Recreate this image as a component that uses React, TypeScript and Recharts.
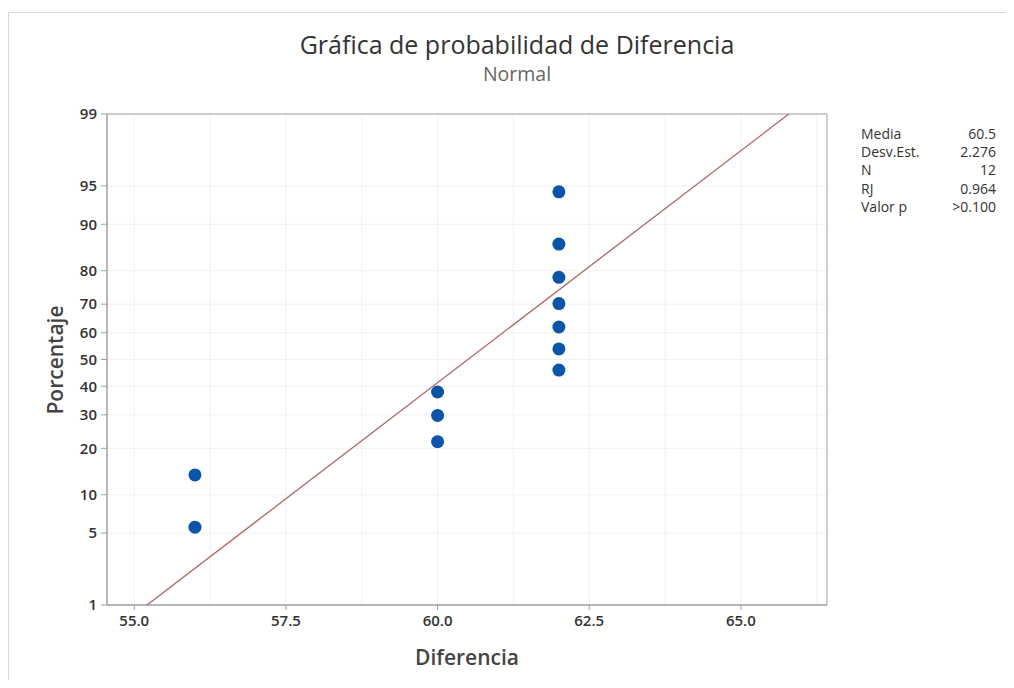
import {
  CartesianGrid,
  ComposedChart,
  ReferenceArea,
  Scatter,
  XAxis,
  YAxis,
} from 'recharts'

// observed values and their plotted percentages
const diferencia = [56, 56, 60, 60, 60, 62, 62, 62, 62, 62, 62, 62]
const porcentaje = [5.6, 13.7, 21.8, 29.8, 37.9, 46.0, 54.0, 62.1, 70.2, 78.2, 86.3, 94.4]

// fitted normal line endpoints
const fitX = [55.21, 65.79]
const fitPct = [1, 99]

const xTicks = [55, 57.5, 60, 62.5, 65]
const xGrid = [55, 56.25, 57.5, 58.75, 60, 61.25, 62.5, 63.75, 65, 66.25]
const yTickPct = [1, 5, 10, 20, 30, 40, 50, 60, 70, 80, 90, 95, 99]

const statLabels = ['Media', 'Desv.Est.', 'N', 'RJ', 'Valor p']
const statValues = ['60.5', '2.276', '12', '0.964', '>0.100']

const X_DOMAIN: [number, number] = [54.55, 66.42]

// inverse normal cdf (Acklam) - maps a percentage onto the probability axis
function probit(p: number): number {
  const a = [-39.69683028665376, 220.9460984245205, -275.9285104469687, 138.357751867269, -30.66479806614716, 2.506628277459239]
  const b = [-54.47609879822406, 161.5858368580409, -155.6989798598866, 66.80131188771720, -13.28068155288572]
  const c = [-0.007784894002430293, -0.3223964580411365, -2.400758276161838, -2.549732539343734, 4.374664141464968, 2.938163982698783]
  const d = [0.007784695709041462, 0.3224671290700398, 2.445134137142996, 3.754408661907416]
  const plow = 0.02425
  if (p < plow) {
    const q = Math.sqrt(-2 * Math.log(p))
    return (((((c[0] * q + c[1]) * q + c[2]) * q + c[3]) * q + c[4]) * q + c[5]) /
      ((((d[0] * q + d[1]) * q + d[2]) * q + d[3]) * q + 1)
  }
  if (p > 1 - plow) return -probit(1 - p)
  const q = p - 0.5
  const r = q * q
  return (((((a[0] * r + a[1]) * r + a[2]) * r + a[3]) * r + a[4]) * r + a[5]) * q /
    (((((b[0] * r + b[1]) * r + b[2]) * r + b[3]) * r + b[4]) * r + 1)
}

const z = (pct: number) => probit(pct / 100)
const yTicks = yTickPct.map(z)
const Y_DOMAIN: [number, number] = [z(1), z(99)]

const points = diferencia.map((x, i) => ({ x, y: z(porcentaje[i]) }))
const fitLine = fitX.map((x, i) => ({ x, y: z(fitPct[i]) }))

const FONT = '"Open Sans", "Noto Sans", sans-serif'

function Dot(props: { cx?: number; cy?: number }) {
  if (props.cx == null || props.cy == null) return null
  return <circle cx={props.cx} cy={props.cy} r={6.5} fill="#0a55a8" />
}

const pctLabel = (v: number) => {
  const i = yTicks.findIndex((t) => Math.abs(t - v) < 1e-6)
  return i >= 0 ? String(yTickPct[i]) : ''
}

export default function App() {
  return (
    <div style={{ position: 'relative', width: 1014, height: 688, margin: -8, background: '#fff', fontFamily: FONT, overflow: 'hidden' }}>
      <div style={{ position: 'absolute', left: 0, width: 1034, top: 27, textAlign: 'center', fontSize: 25, color: '#333' }}>
        Gráfica de probabilidad de Diferencia
      </div>
      <div style={{ position: 'absolute', left: 0, width: 1034, top: 60, textAlign: 'center', fontSize: 19.5, color: '#666' }}>
        Normal
      </div>

      <ComposedChart
        width={1014}
        height={688}
        margin={{ top: 114, right: 187, bottom: 53, left: 47 }}
        style={{ position: 'absolute', left: 0, top: 0 }}
      >
        <CartesianGrid stroke="#f1f1f1" verticalValues={xGrid} />
        <XAxis
          type="number"
          dataKey="x"
          domain={X_DOMAIN}
          ticks={xTicks}
          allowDataOverflow
          height={30}
          tickSize={5}
          tickMargin={5}
          stroke="#a0a0a0"
          tick={{ fill: '#333', fontSize: 15, fontFamily: FONT, fontWeight: 600 }}
          tickFormatter={(v: number) => v.toFixed(1)}
        />
        <YAxis
          type="number"
          dataKey="y"
          domain={Y_DOMAIN}
          ticks={yTicks}
          allowDataOverflow
          width={60}
          tickSize={6}
          tickMargin={4}
          stroke="#a0a0a0"
          tick={{ fill: '#333', fontSize: 15, fontFamily: FONT, fontWeight: 600 }}
          tickFormatter={pctLabel}
        />
        <ReferenceArea
          x1={X_DOMAIN[0]}
          x2={X_DOMAIN[1]}
          y1={Y_DOMAIN[0]}
          y2={Y_DOMAIN[1]}
          fill="none"
          stroke="#a0a0a0"
          ifOverflow="visible"
        />
        <Scatter
          data={fitLine}
          line={{ stroke: '#b06464', strokeWidth: 1.3 }}
          shape={() => <g />}
          isAnimationActive={false}
        />
        <Scatter data={points} shape={<Dot />} isAnimationActive={false} />
      </ComposedChart>

      <div style={{ position: 'absolute', left: -15, top: 348, width: 140, textAlign: 'center', transform: 'rotate(-90deg)', fontSize: 21, fontWeight: 600, color: '#444', lineHeight: '24px', whiteSpace: 'nowrap' }}>
        Porcentaje
      </div>
      <div style={{ position: 'absolute', left: 107, width: 720, top: 643, textAlign: 'center', fontSize: 21, fontWeight: 600, color: '#444' }}>
        Diferencia
      </div>

      <div style={{ position: 'absolute', left: 861, top: 125, width: 135, fontSize: 14, color: '#333', lineHeight: '18.2px' }}>
        {statLabels.map((label, i) => (
          <div key={label} style={{ display: 'flex', justifyContent: 'space-between' }}>
            <span>{label}</span>
            <span>{statValues[i]}</span>
          </div>
        ))}
      </div>

      <div style={{ position: 'absolute', left: 7, top: 12, width: 1020, height: 700, borderLeft: '2px solid #d8d8d8', borderTop: '1px solid #d8d8d8', pointerEvents: 'none' }} />
    </div>
  )
}
